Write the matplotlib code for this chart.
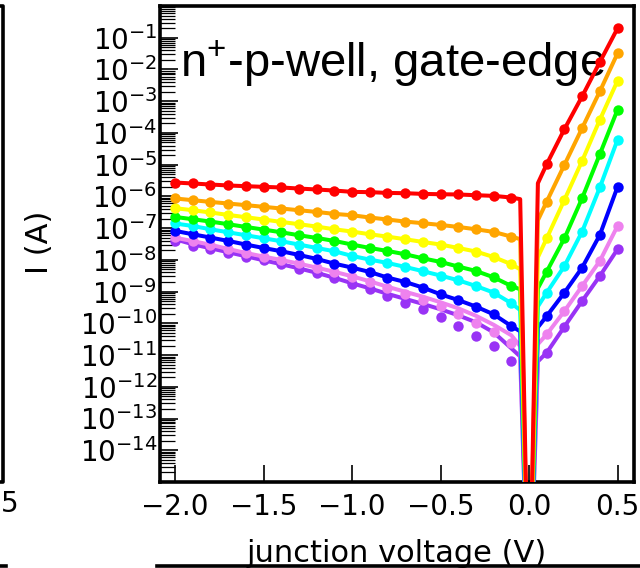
import matplotlib
matplotlib.use('Agg')
import matplotlib.pyplot as plt
from matplotlib.lines import Line2D
from matplotlib.ticker import FixedLocator, LogLocator, NullFormatter, FuncFormatter
import numpy as np

plt.rcParams['font.family'] = 'DejaVu Sans'

# ---------------------------------------------------------------------------
# Data: measured dots (reverse / forward bias) and fit lines
# ---------------------------------------------------------------------------
v_rev = [-2.0, -1.9, -1.8, -1.7, -1.6, -1.5, -1.4, -1.3, -1.2, -1.1,
         -1.0, -0.9, -0.8, -0.7, -0.6, -0.5, -0.4, -0.3, -0.2, -0.1]
v_fwd = [0.1, 0.2, 0.3, 0.4, 0.5]
v_edge = [-0.05, 0.0, 0.05]   # fit points around zero bias

red_rev = [2.74e-6, 2.55e-6, 2.37e-6, 2.21e-6, 2.10e-6, 2.00e-6, 1.91e-6, 1.77e-6, 1.65e-6, 1.53e-6,
           1.39e-6, 1.36e-6, 1.29e-6, 1.26e-6, 1.20e-6, 1.17e-6, 1.15e-6, 1.09e-6, 1.04e-6, 9.2e-7]
red_fwd = [1.04e-5, 1.32e-4, 1.42e-3, 1.71e-2, 0.198]
red_edge = [8.2e-7, 1e-20, 2.6e-6]

orange_rev = [8.6e-7, 7.6e-7, 6.7e-7, 5.97e-7, 5.3e-7, 4.7e-7, 4.15e-7, 3.67e-7, 3.24e-7, 2.81e-7,
              2.55e-7, 2.16e-7, 1.87e-7, 1.61e-7, 1.43e-7, 1.26e-7, 1.09e-7, 9.2e-8, 7.6e-8, 5.4e-8]
orange_fwd = [6.9e-7, 9.9e-6, 1.42e-4, 2.04e-3, 3.22e-2]
orange_edge = [4.5e-8, 1e-20, 1.77e-7]

yellow_rev = [4.25e-7, 3.67e-7, 3.11e-7, 2.61e-7, 2.21e-7, 1.87e-7, 1.57e-7, 1.33e-7, 1.12e-7, 9.2e-8,
              7.8e-8, 6.4e-8, 5.4e-8, 4.47e-8, 3.67e-8, 3.04e-8, 2.37e-8, 1.83e-8, 1.23e-8, 7.3e-9]
yellow_fwd = [4.8e-8, 7.8e-7, 1.32e-5, 2.59e-4, 4.4e-3]
yellow_edge = [5.0e-9, 1e-20, 1.21e-8]

green_rev = [2.25e-7, 1.91e-7, 1.61e-7, 1.33e-7, 1.09e-7, 9.0e-8, 7.4e-8, 5.97e-8, 4.91e-8, 3.95e-8,
             3.04e-8, 2.37e-8, 1.91e-8, 1.50e-8, 1.12e-8, 8.6e-9, 6.15e-9, 4.47e-9, 2.82e-9, 1.50e-9]
green_fwd = [4.28e-9, 4.8e-8, 8.8e-7, 2.14e-5, 5.4e-4]
green_edge = [1.18e-9, 1e-20, 1.27e-9]

cyan_rev = [1.40e-7, 1.17e-7, 9.2e-8, 7.4e-8, 5.97e-8, 4.80e-8, 3.86e-8, 3.04e-8, 2.37e-8, 1.87e-8,
            1.33e-8, 1.02e-8, 8.0e-9, 6.0e-9, 4.4e-9, 3.2e-9, 2.27e-9, 1.50e-9, 9.3e-10, 4.3e-10]
cyan_fwd = [9.3e-10, 6.4e-9, 7.8e-8, 1.91e-6, 6.1e-5]
cyan_edge = [2.6e-10, 1e-20, 3.4e-10]

blue_rev = [8.2e-8, 6.4e-8, 5.05e-8, 3.95e-8, 3.04e-8, 2.37e-8, 1.87e-8, 1.43e-8, 1.07e-8, 7.6e-9,
            5.7e-9, 4.15e-9, 2.77e-9, 2.01e-9, 1.34e-9, 8.2e-10, 5.4e-10, 3.37e-10, 1.92e-10, 8.2e-11]
blue_fwd = [1.70e-10, 9.3e-10, 5.7e-9, 6.1e-8, 2.0e-6]
blue_edge = [5.6e-11, 1e-20, 7.5e-11]

pink_rev = [5.35e-8, 3.95e-8, 3.04e-8, 2.16e-8, 1.61e-8, 1.27e-8, 9.9e-9, 7.8e-9, 5.7e-9, 4.15e-9,
            2.97e-9, 2.01e-9, 1.34e-9, 8.2e-10, 5.4e-10, 3.52e-10, 1.92e-10, 1.05e-10, 5.3e-11, 2.34e-11]
pink_fwd = [4.5e-11, 2.44e-10, 1.50e-9, 9.2e-9, 1.17e-7]
pink_edge = [1.9e-11, 1e-20, 2.2e-11]
pink_fit_rev = [5.0e-8, 3.9e-8, 3.0e-8, 2.2e-8, 1.65e-8, 1.27e-8, 9.9e-9, 7.6e-9, 5.7e-9, 4.2e-9,
                3.04e-9, 2.11e-9, 1.42e-9, 9.9e-10, 6.9e-10, 4.6e-10, 2.97e-10, 1.73e-10, 9.0e-11, 4.2e-11]

purple_rev = [3.86e-8, 2.74e-8, 2.16e-8, 1.61e-8, 1.27e-8, 9.7e-9, 7.3e-9, 5.3e-9, 3.78e-9, 2.77e-9,
              1.70e-9, 1.18e-9, 7.3e-10, 4.5e-10, 2.77e-10, 1.63e-10, 8.2e-11, 3.97e-11, 1.92e-11, 6.5e-12]
purple_fwd = [1.19e-11, 7.9e-11, 5.05e-10, 3.10e-9, 2.16e-8]
purple_edge = [9e-12, 1e-20, 6.3e-12]
purple_fit_rev = [4.47e-8, 3.1e-8, 2.32e-8, 1.74e-8, 1.30e-8, 9.7e-9, 7.3e-9, 5.4e-9, 3.92e-9, 2.72e-9,
                  1.83e-9, 1.27e-9, 8.5e-10, 5.9e-10, 4.1e-10, 2.77e-10, 1.79e-10, 1.08e-10, 5.2e-11, 1.63e-11]

x_ticks = [-2.0, -1.5, -1.0, -0.5, 0.0, 0.5]

# drawn bottom curve first so red ends on top
curves = [
    ('#9933f5', purple_rev, purple_fwd, purple_edge, purple_fit_rev),
    ('#ee82ee', pink_rev, pink_fwd, pink_edge, pink_fit_rev),
    ('#0000ff', blue_rev, blue_fwd, blue_edge, None),
    ('#00ffff', cyan_rev, cyan_fwd, cyan_edge, None),
    ('#00ff00', green_rev, green_fwd, green_edge, None),
    ('#ffff00', yellow_rev, yellow_fwd, yellow_edge, None),
    ('#ffa500', orange_rev, orange_fwd, orange_edge, None),
    ('#ff0000', red_rev, red_fwd, red_edge, None),
]

# ---------------------------------------------------------------------------
# Figure
# ---------------------------------------------------------------------------
W, H = 640, 568
fig = plt.figure(figsize=(W / 100, H / 100), dpi=100)
ax = fig.add_axes([160 / W, 1 - 482 / H, 474 / W, 476 / H])

for k, (color, rev, fwd, edge, fit) in enumerate(curves):
    line_rev = fit if fit is not None else rev
    ax.plot(v_rev + v_edge + v_fwd, line_rev + edge + fwd,
            color=color, lw=2.9, zorder=2 + k, solid_joinstyle='round')
    ax.plot(v_rev + v_fwd, rev + fwd, 'o', color=color, ms=7.5,
            mec='none', zorder=2 + k)

ax.set_yscale('log')
ax.set_xlim(-2.085, 0.593)
ax.set_ylim(1e-15, 1)

decades = list(range(-15, 1))
ax.yaxis.set_major_locator(FixedLocator([10.0 ** d for d in decades]))
ax.yaxis.set_major_formatter(FuncFormatter(
    lambda y, _: '' if round(np.log10(y)) in (-15, 0)
    else r'$\mathregular{10^{%d}}$' % round(np.log10(y))))
ax.yaxis.set_minor_locator(LogLocator(base=10, subs=np.arange(2, 10), numticks=200))
ax.yaxis.set_minor_formatter(NullFormatter())

ax.set_xticks(x_ticks, labels=[f'{v:.1f}'.replace('-', '\u2212') for v in x_ticks])

ax.tick_params(axis='both', which='both', direction='in', top=False, right=False,
               labelsize=20)
ax.tick_params(axis='x', which='major', length=12, width=1.2, pad=8)
ax.tick_params(axis='y', which='major', length=13, width=1.2, pad=2)
ax.tick_params(axis='y', which='minor', length=11, width=0.9)

for sp in ax.spines.values():
    sp.set_linewidth(2.6)

ax.text(20 / 474, 1 - 71 / 476, r'n$\mathregular{^{+}}$-p-well, gate-edge',
        transform=ax.transAxes, fontsize=34, fontfamily='Liberation Sans',
        va='baseline', ha='left', zorder=1)

fig.text(397 / W, 1 - 562 / H, 'junction voltage (V)', fontsize=22,
         ha='center', va='baseline')
fig.text(40 / W, 1 - 242 / H, 'I (A)', fontsize=22, rotation=90,
         ha='center', va='center')

# fragments of neighbouring panels
deco = dict(color='black', lw=2.6, transform=fig.transFigure)
fig.add_artist(Line2D([0, 3 / W, 3 / W, 0], [1 - 6 / H, 1 - 6 / H, 1 - 482 / H, 1 - 482 / H], **deco))
fig.add_artist(Line2D([0, 6 / W], [1 - 566 / H, 1 - 566 / H], **deco))
fig.add_artist(Line2D([157 / W, 1], [1 - 566 / H, 1 - 566 / H], **deco))
fig.text(1 / W, 1 - 504 / H, '5', fontsize=20, ha='left', va='center')

fig.savefig('out.png', dpi=100)
